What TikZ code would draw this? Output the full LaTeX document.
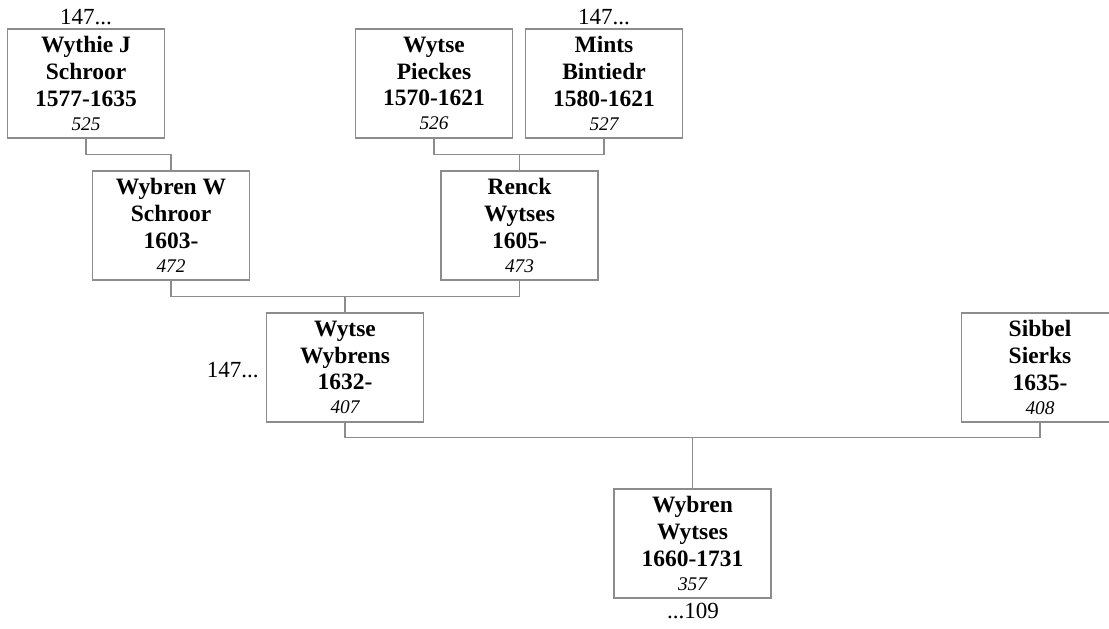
\documentclass[tikz,border=0pt]{standalone}
\usepackage{fontspec}
\setmainfont{Liberation Serif}
\definecolor{boxgray}{RGB}{140,140,140}
\tikzset{
  person/.style={draw=boxgray, line width=0.8pt, minimum width=117.75pt, minimum height=81.75pt,
    inner sep=0pt, align=center, font=\bfseries\fontsize{17.6}{20}\selectfont},
  link/.style={draw=boxgray, line width=0.8pt},
  more/.style={font=\fontsize{17.3}{20}\selectfont, inner sep=0pt}
}
\newcommand{\refno}[1]{\\[-2pt]{\mdseries\itshape\fontsize{14.5}{17}\selectfont #1}}
\begin{document}
\begin{tikzpicture}[x=0.75pt,y=-0.75pt]
\useasboundingbox (0,0) rectangle (1109,628);
\clip (0,0) rectangle (1109,628);
% people
\node[person] (p525) at (86,83.5) {Wythie J\\Schroor\\1577-1635\refno{525}};
\node[person] (p526) at (434,83.5) {Wytse\\Pieckes\\1570-1621\refno{526}};
\node[person] (p527) at (604,83.5) {Mints\\Bintiedr\\1580-1621\refno{527}};
\node[person] (p472) at (171,225.5) {Wybren W\\Schroor\\1603-\refno{472}};
\node[person] (p473) at (519.5,225.5) {Renck\\Wytses\\1605-\refno{473}};
\node[person] (p407) at (345,367.5) {Wytse\\Wybrens\\1632-\refno{407}};
\node[person] (p408) at (1040,367.5) {Sibbel\\Sierks\\1635-\refno{408}};
\node[person] (p357) at (692.5,543.5) {Wybren\\Wytses\\1660-1731\refno{357}};
% continuation labels
\node[more, anchor=base] (m525) at (86,24) {147...};
\node[more, anchor=base] (m527) at (604,24) {147...};
\node[more, anchor=base east] (m407) at (259,377) {147...};
\node[more, anchor=base] (d357) at (693,618) {...109};
% connectors
\draw[link] (p525.south) -- ++(0,16) -| (p472.north);
\draw[link] (p526.south) -- ++(0,16) coordinate (j1) -| (p527.south);
\draw[link] (p473.north) -- (p473.north |- j1);
\draw[link] (p472.south) -- ++(0,16) coordinate (j2) -| (p473.south);
\draw[link] (p407.north) -- (p407.north |- j2);
\draw[link] (p407.south) -- ++(0,15) coordinate (j3) -| (p408.south);
\draw[link] (p357.north) -- (p357.north |- j3);
\end{tikzpicture}
\end{document}
